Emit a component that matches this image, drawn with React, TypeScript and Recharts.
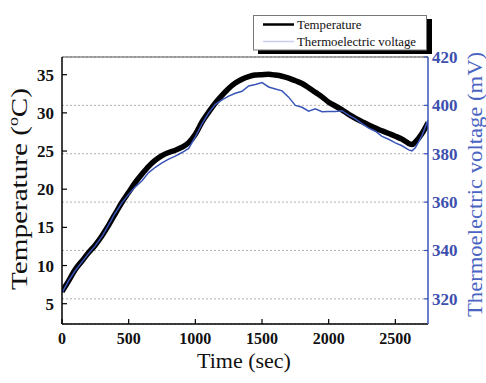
import React from 'react';
import { LineChart, Line, XAxis, YAxis, CartesianGrid, ReferenceLine } from 'recharts';

const timeSec = [0, 50, 100, 150, 200, 250, 300, 350, 400, 450, 500, 550, 600, 650, 700, 750, 800, 850, 900, 950,
  1000, 1050, 1100, 1150, 1200, 1250, 1300, 1350, 1400, 1450, 1500, 1550, 1600, 1650, 1700, 1750, 1800, 1850, 1900, 1950,
  2000, 2050, 2100, 2150, 2200, 2250, 2300, 2350, 2400, 2450, 2500, 2550, 2600, 2625, 2650, 2700, 2745];

const temperature = [6.6, 8.0, 9.5, 10.6, 11.7, 12.7, 13.9, 15.3, 16.8, 18.3, 19.6, 20.9, 22.0, 23.0, 23.8, 24.4, 24.8, 25.1, 25.5, 26.1,
  27.2, 28.8, 30.1, 31.3, 32.3, 33.2, 33.9, 34.4, 34.75, 34.95, 35.0, 35.05, 34.95, 34.8, 34.55, 34.2, 33.85, 33.3, 32.7, 32.1,
  31.4, 30.9, 30.4, 29.8, 29.3, 28.85, 28.4, 28.0, 27.65, 27.3, 26.95, 26.55, 26.0, 25.85, 26.2, 27.3, 28.7];

const voltage = [322.5, 327.5, 331.7, 335.3, 338.8, 342.0, 345.8, 350.6, 355.5, 359.8, 363.2, 366.3, 368.8, 372.2, 374.4, 376.2, 377.8, 379.0, 380.5, 382.2,
  387.0, 392.4, 396.9, 400.4, 402.3, 403.8, 405.0, 405.8, 408.0, 408.6, 409.4, 407.6, 406.8, 406.0, 403.4, 400.0, 399.2, 397.6, 398.6, 397.4,
  397.5, 397.5, 397.8, 396.0, 394.4, 392.5, 390.6, 389.3, 387.2, 386.0, 384.5, 383.3, 381.6, 381.2, 382.5, 387.5, 394.0];

const timeTicks = [0, 500, 1000, 1500, 2000, 2500];
const tempTicks = [5, 10, 15, 20, 25, 30, 35];
const voltTicks = [320, 340, 360, 380, 400, 420];
const seriesNames = ['Temperature', 'Thermoelectric voltage'];

const data = timeSec.map((t, i) => ({ t, temp: temperature[i], volt: voltage[i] }));

const SERIF = "'Liberation Serif', serif";
const BLUE_LINE = '#3a55b8';
const BLUE_TEXT = '#3d4fae';
const BLUE_TITLE = '#4a64c2';

const BottomTick = (props: any) => {
  const { x, y, payload } = props;
  return (
    <g>
      <line x1={x} x2={x} y1={y} y2={y - 5} stroke="#000" strokeWidth={1.2} />
      <text x={x} y={y + 20} textAnchor="middle" fontFamily={SERIF} fontWeight="bold" fontSize={16} fill="#111">
        {payload.value}
      </text>
    </g>
  );
};

const LeftTick = (props: any) => {
  const { x, y, payload } = props;
  return (
    <g>
      <line x1={x} x2={x + 5} y1={y} y2={y} stroke="#000" strokeWidth={1.2} />
      <text x={x - 8} y={y + 6} textAnchor="end" fontFamily={SERIF} fontWeight="bold" fontSize={17} fill="#111">
        {payload.value}
      </text>
    </g>
  );
};

const RightTick = (props: any) => {
  const { x, y, payload } = props;
  return (
    <g>
      <line x1={x} x2={x - 4} y1={y} y2={y} stroke={BLUE_LINE} strokeWidth={1.2} />
      <text x={x + 4} y={y + 6} textAnchor="start" fontFamily={SERIF} fontWeight="bold" fontSize={17} fill={BLUE_TEXT}>
        {payload.value}
      </text>
    </g>
  );
};

const xTitle = () => (
  <text x={244} y={367.5} textAnchor="middle" fontFamily={SERIF} fontSize={22} fill="#111">
    Time (sec)
  </text>
);

const leftTitle = () => (
  <text
    transform="translate(27,189) rotate(-90)"
    textAnchor="middle"
    fontFamily={SERIF}
    fontSize={23}
    fill="#111"
    textLength={202}
    lengthAdjust="spacingAndGlyphs"
  >
    Temperature (<tspan fontSize={14} dy={-9}>o</tspan>
    <tspan dy={9}>C)</tspan>
  </text>
);

const rightTitle = () => (
  <text
    transform="translate(482,184.5) rotate(-90)"
    textAnchor="middle"
    fontFamily={SERIF}
    fontSize={22}
    fill={BLUE_TITLE}
    textLength={265}
    lengthAdjust="spacingAndGlyphs"
  >
    Thermoelectric voltage (mV)
  </text>
);

export default function App() {
  return (
    <div style={{ position: 'absolute', left: 0, top: 0, width: 486, height: 383, background: '#fff' }}>
      <LineChart width={486} height={383} data={data} margin={{ top: 57, right: 0, bottom: 0, left: 0 }}>
        <CartesianGrid yAxisId="right" vertical={false} stroke="#9a9a9a" strokeDasharray="2 2" strokeWidth={0.8} />
        <XAxis
          dataKey="t"
          type="number"
          domain={[0, 2745]}
          ticks={timeTicks}
          interval={0}
          height={59}
          tickSize={0}
          tickMargin={0}
          tick={<BottomTick />}
          axisLine={{ stroke: '#000', strokeWidth: 1.5 }}
          tickLine={false}
          label={{ content: xTitle }}
          allowDataOverflow
        />
        <YAxis
          yAxisId="left"
          orientation="left"
          type="number"
          domain={[2.34, 37.32]}
          ticks={tempTicks}
          interval={0}
          width={62}
          tickSize={0}
          tickMargin={0}
          tick={<LeftTick />}
          axisLine={{ stroke: '#000', strokeWidth: 1.5 }}
          tickLine={false}
          label={{ content: leftTitle }}
          allowDataOverflow
        />
        <YAxis
          yAxisId="right"
          orientation="right"
          type="number"
          domain={[309.6, 420]}
          ticks={voltTicks}
          interval={0}
          width={58}
          tickSize={0}
          tickMargin={0}
          tick={<RightTick />}
          axisLine={{ stroke: BLUE_LINE, strokeWidth: 1.5 }}
          tickLine={false}
          label={{ content: rightTitle }}
          allowDataOverflow
        />
        <ReferenceLine yAxisId="right" y={420} stroke="#555" strokeWidth={1} />
        <Line
          yAxisId="left"
          dataKey="temp"
          name={seriesNames[0]}
          type="monotone"
          stroke="#000"
          strokeWidth={5.5}
          dot={false}
          isAnimationActive={false}
        />
        <Line
          yAxisId="right"
          dataKey="volt"
          name={seriesNames[1]}
          type="linear"
          stroke={BLUE_LINE}
          strokeWidth={1.5}
          dot={false}
          isAnimationActive={false}
        />
      </LineChart>
      <svg width={486} height={383} style={{ position: 'absolute', left: 0, top: 0, pointerEvents: 'none' }}>
        <rect x={258} y={19} width={174} height={35} fill="#000" />
        <rect x={253.5} y={15.5} width={173} height={34.5} fill="#fff" stroke="#777" strokeWidth={1} />
        <line x1={263} x2={294} y1={24.5} y2={24.5} stroke="#000" strokeWidth={2.5} />
        <text x={297} y={29} fontFamily={SERIF} fontSize={12.8} fill="#111">{seriesNames[0]}</text>
        <line x1={263} x2={294} y1={41.5} y2={41.5} stroke="#c9cff0" strokeWidth={1.5} />
        <text x={297} y={46} fontFamily={SERIF} fontSize={12.8} fill="#111">{seriesNames[1]}</text>
      </svg>
    </div>
  );
}
